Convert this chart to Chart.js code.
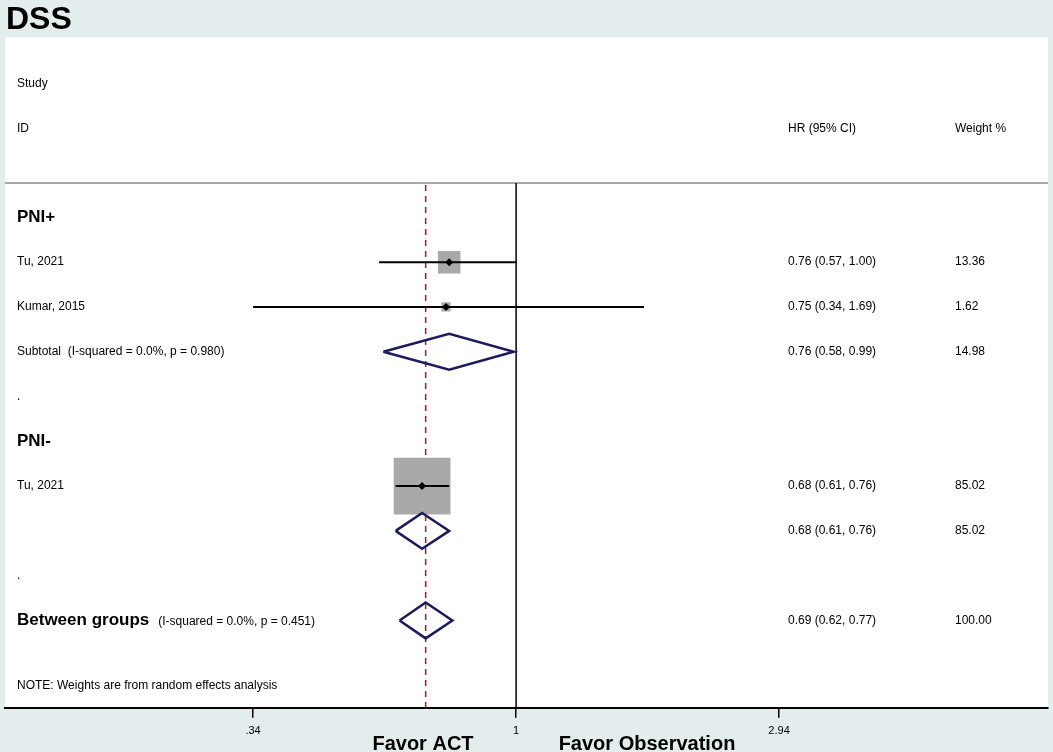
<!DOCTYPE html>
<html>
<head>
<meta charset="utf-8">
<script src="https://cdn.jsdelivr.net/npm/chart.js@4.4.1/dist/chart.umd.min.js"></script>
<style>
  html, body { margin: 0; padding: 0; background: #e4eded; }
</style>
</head>
<body>
<canvas id="forest" width="1053" height="752"></canvas>
<script>
// rows under the header, top to bottom
const rowLabels = ['PNI+', 'Tu, 2021', 'Kumar, 2015', 'Subtotal', '.', 'PNI-', 'Tu, 2021', '', '.', 'Between groups'];
const rowNotes  = ['', '', '', '(I-squared = 0.0%, p = 0.980)', '', '', '', '', '', '(I-squared = 0.0%, p = 0.451)'];
const rowKinds  = ['group', 'study', 'study', 'pooled', 'gap', 'group', 'study', 'pooled', 'gap', 'overall'];
const hrValues  = [null, 0.76, 0.75, 0.76, null, null, 0.68, 0.68, null, 0.69];
const ciLower   = [null, 0.57, 0.34, 0.58, null, null, 0.61, 0.61, null, 0.62];
const ciUpper   = [null, 1.00, 1.69, 0.99, null, null, 0.76, 0.76, null, 0.77];
const weights   = [null, 13.36, 1.62, 14.98, null, null, 85.02, 85.02, null, 100.00];

const tickValues = [0.34, 1, 2.94];
const tickLabels = ['.34', '1', '2.94'];

const FONT = '"Liberation Sans", Arial, Helvetica, sans-serif';
const HEADER_ROWS = 3;           // Study, ID, blank
const rowY = i => i + HEADER_ROWS;

const studyIdx = rowKinds.map((k, i) => k === 'study' ? i : -1).filter(i => i >= 0);
const pooledIdx = rowKinds.map((k, i) => (k === 'pooled' || k === 'overall') ? i : -1).filter(i => i >= 0);
const overallHR = hrValues[rowKinds.indexOf('overall')];

const datasets = [];

// weighted grey boxes
datasets.push({
  data: studyIdx.map(i => ({ x: hrValues[i], y: rowY(i), w: weights[i] })),
  pointStyle: 'rect',
  pointRadius: c => Math.max(6.5, 4.35 * Math.sqrt(c.raw.w)),
  backgroundColor: '#a9a9a9',
  borderWidth: 0,
  order: 3
});

// confidence intervals
studyIdx.forEach(i => {
  datasets.push({
    data: [{ x: ciLower[i], y: rowY(i) }, { x: ciUpper[i], y: rowY(i) }],
    showLine: true,
    borderColor: '#000',
    borderWidth: 2,
    pointRadius: 0,
    order: 2
  });
});

// point estimates
datasets.push({
  data: studyIdx.map(i => ({ x: hrValues[i], y: rowY(i) })),
  pointStyle: 'rectRot',
  pointRadius: 4,
  backgroundColor: '#000',
  borderWidth: 0,
  order: 1
});

// pooled diamonds
pooledIdx.forEach(i => {
  const y = rowY(i);
  datasets.push({
    data: [
      { x: ciLower[i], y: y },
      { x: hrValues[i], y: y - 0.4 },
      { x: ciUpper[i], y: y },
      { x: hrValues[i], y: y + 0.4 },
      { x: ciLower[i], y: y }
    ],
    showLine: true,
    borderColor: '#1b1b5e',
    borderWidth: 2.5,
    borderJoinStyle: 'miter',
    pointRadius: 0,
    fill: false,
    order: 1
  });
});

const forestPlugin = {
  id: 'forest',
  beforeDraw(chart) {
    const { ctx, chartArea: a, width, height } = chart;
    ctx.save();
    ctx.fillStyle = '#e4eded';
    ctx.fillRect(0, 0, width, height);
    ctx.fillStyle = '#fff';
    ctx.fillRect(a.left, a.top, a.right - a.left, a.bottom - a.top);
    ctx.restore();
  },
  beforeDatasetsDraw(chart) {
    const { ctx, chartArea: a, scales: { x, y } } = chart;
    const top = y.getPixelForValue(HEADER_ROWS - 0.77);
    ctx.save();
    ctx.strokeStyle = '#8c8c8c';
    ctx.lineWidth = 1.5;
    ctx.beginPath(); ctx.moveTo(a.left, top); ctx.lineTo(a.right, top); ctx.stroke();

    const x1 = x.getPixelForValue(1);
    ctx.strokeStyle = '#000';
    ctx.lineWidth = 1.5;
    ctx.beginPath(); ctx.moveTo(x1, top); ctx.lineTo(x1, a.bottom); ctx.stroke();

    const xo = x.getPixelForValue(overallHR);
    ctx.strokeStyle = '#9c1c2c';
    ctx.lineWidth = 1.5;
    ctx.setLineDash([6, 5]);
    ctx.beginPath(); ctx.moveTo(xo, top + 2); ctx.lineTo(xo, a.bottom); ctx.stroke();
    ctx.restore();
  },
  afterDraw(chart) {
    const { ctx, chartArea: a, scales: { y } } = chart;
    const colLabel = 17, colHR = 788, colW = 955;
    ctx.save();
    ctx.fillStyle = '#000';
    ctx.textAlign = 'left';

    ctx.font = 'bold 32px ' + FONT;
    ctx.textBaseline = 'alphabetic';
    ctx.fillText('DSS', 6, 29);
    ctx.textBaseline = 'middle';

    ctx.font = '12px ' + FONT;
    ctx.fillText('Study', colLabel, y.getPixelForValue(0) + 1);
    ctx.fillText('ID', colLabel, y.getPixelForValue(1) + 1);
    ctx.fillText('HR (95% CI)', colHR, y.getPixelForValue(1) + 1);
    ctx.fillText('Weight %', colW, y.getPixelForValue(1) + 1);

    rowLabels.forEach((lab, i) => {
      const py = y.getPixelForValue(rowY(i));
      const kind = rowKinds[i];
      if (kind === 'group' || kind === 'overall') {
        ctx.font = 'bold 17px ' + FONT;
        ctx.fillText(lab, colLabel, py);
        const w = ctx.measureText(lab).width;
        if (rowNotes[i]) {
          ctx.font = '12px ' + FONT;
          ctx.fillText(rowNotes[i], colLabel + w + 9, py + 1);
        }
      } else {
        ctx.font = '12px ' + FONT;
        ctx.fillText(rowNotes[i] ? lab + '  ' + rowNotes[i] : lab, colLabel, py);
      }
      if (hrValues[i] !== null) {
        ctx.font = '12px ' + FONT;
        ctx.fillText(hrValues[i].toFixed(2) + ' (' + ciLower[i].toFixed(2) + ', ' + ciUpper[i].toFixed(2) + ')', colHR, py);
        ctx.fillText(weights[i].toFixed(2), colW, py);
      }
    });

    ctx.font = '12px ' + FONT;
    ctx.fillText('NOTE: Weights are from random effects analysis', colLabel, a.bottom - 22);

    ctx.font = 'bold 20px ' + FONT;
    ctx.textAlign = 'center';
    ctx.textBaseline = 'alphabetic';
    ctx.fillText('Favor ACT', 423, 750);
    ctx.fillText('Favor Observation', 647, 750);
    ctx.restore();
  }
};

new Chart(document.getElementById('forest'), {
  type: 'scatter',
  data: { datasets: datasets },
  options: {
    responsive: false,
    animation: false,
    events: [],
    layout: { autoPadding: false, padding: { left: 5, right: 5, top: 37, bottom: 7 } },
    plugins: { legend: { display: false }, tooltip: { enabled: false } },
    scales: {
      x: {
        type: 'logarithmic',
        min: 0.1229,
        max: 8.86,
        bounds: 'data',
        afterBuildTicks: s => { s.ticks = tickValues.map(v => ({ value: v })); },
        afterFit: s => { s.paddingLeft = 0; s.paddingRight = 0; s.paddingTop = 0; s.paddingBottom = 0; },
        ticks: {
          callback: (v, i) => tickLabels[i],
          color: '#000',
          font: { family: FONT, size: 11 },
          padding: 7,
          autoSkip: false,
          maxRotation: 0
        },
        grid: { drawOnChartArea: false, drawTicks: true, tickLength: 10, color: '#000', lineWidth: 1.5 },
        border: { display: true, color: '#000', width: 2 }
      },
      y: {
        type: 'linear',
        reverse: true,
        min: -1.027,
        max: 13.95,
        display: false
      }
    }
  },
  plugins: [forestPlugin]
});
</script>
</body>
</html>
